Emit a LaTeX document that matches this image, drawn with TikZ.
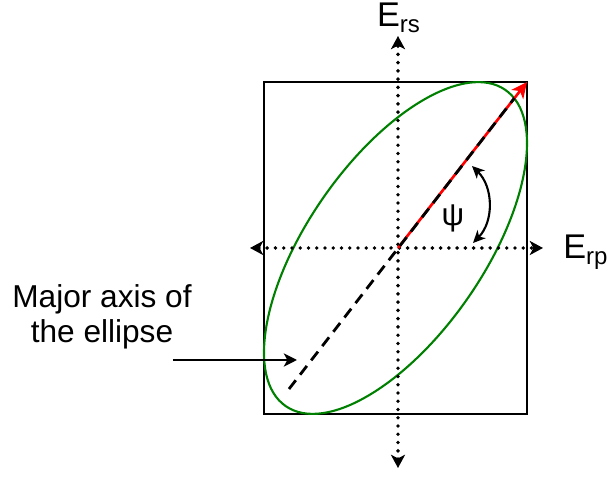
\documentclass[tikz,border=0pt]{standalone}
\usepackage{fontspec}
\setmainfont{Liberation Sans}
\usetikzlibrary{arrows.meta}

\tikzset{
    axisline/.style={line width=2.2pt, line cap=round, dash pattern=on 0pt off 4.7pt,
        {Stealth[length=7.5pt,width=8pt,inset=2pt]}-{Stealth[length=7.5pt,width=8pt,inset=2pt]}},
    boxline/.style={line width=1.2pt},
    ellline/.style={line width=1.2pt, draw={rgb,255:red,0;green,128;blue,0}},
    majline/.style={line width=1.6pt, dash pattern=on 6.3pt off 4pt},
    lbl/.style={font=\fontsize{18}{20}\selectfont, inner sep=0pt},
    axlbl/.style={font=\fontsize{19.5}{22}\selectfont, inner sep=0pt},
}

\begin{document}
\begin{tikzpicture}
    \useasboundingbox (-7.96,-4.72) rectangle (4.22,4.96);
    % frame and ellipse
    \coordinate (O) at (0,0);
    \coordinate (box sw) at (-2.68,-3.32);
    \coordinate (box ne) at (2.58,3.32);
    \coordinate (ell c) at (-0.05,0);
    \draw[boxline] (box sw) rectangle (box ne);
    \draw[ellline, rotate around={55.2:(ell c)}] (ell c) ellipse [x radius=3.85, y radius=1.76];
    % axes
    \coordinate (xl) at (-2.96,0);
    \coordinate (xr) at (2.90,0);
    \coordinate (yb) at (0,-4.40);
    \coordinate (yt) at (0,4.24);
    \draw[axisline] (xl) -- (xr);
    \draw[axisline] (yb) -- (yt);
    \node[axlbl, anchor=base] (ers) at (0.02,4.42) {E\textsubscript{rs}};
    \node[axlbl, anchor=base west] (erp) at (3.3,-0.22) {E\textsubscript{rp}};
    % major axis
    \coordinate (maj a) at (-2.18,-2.82);
    \coordinate (maj b) at (2.33,3.0);
    \draw[red, line width=1.5pt, -{Stealth[length=9pt,width=8.5pt,inset=2.5pt]}] (O) -- (box ne);
    \draw[majline] (maj a) -- (maj b);
    % angle
    \coordinate (psi a) at (1.48,1.64);
    \coordinate (psi b) at (1.5,0.1);
    \draw[line width=1.2pt, {Stealth[length=7pt,width=6.5pt,inset=2pt]}-{Stealth[length=7pt,width=6.5pt,inset=2pt]}]
        (psi a) to[bend left=45] (psi b);
    \node[lbl] (psi) at (1.1,0.6) {ψ};
    % label
    \node[lbl, align=center] (majlabel) at (-5.92,-1.38) {Major axis of\\the ellipse};
    \coordinate (ptr tail) at (-4.5,-2.24);
    \coordinate (ptr tip) at (-2.02,-2.24);
    \draw[line width=1.2pt, -{Stealth[length=7.5pt,width=7.5pt,inset=2pt]}] (ptr tail) -- (ptr tip);
\end{tikzpicture}
\end{document}
